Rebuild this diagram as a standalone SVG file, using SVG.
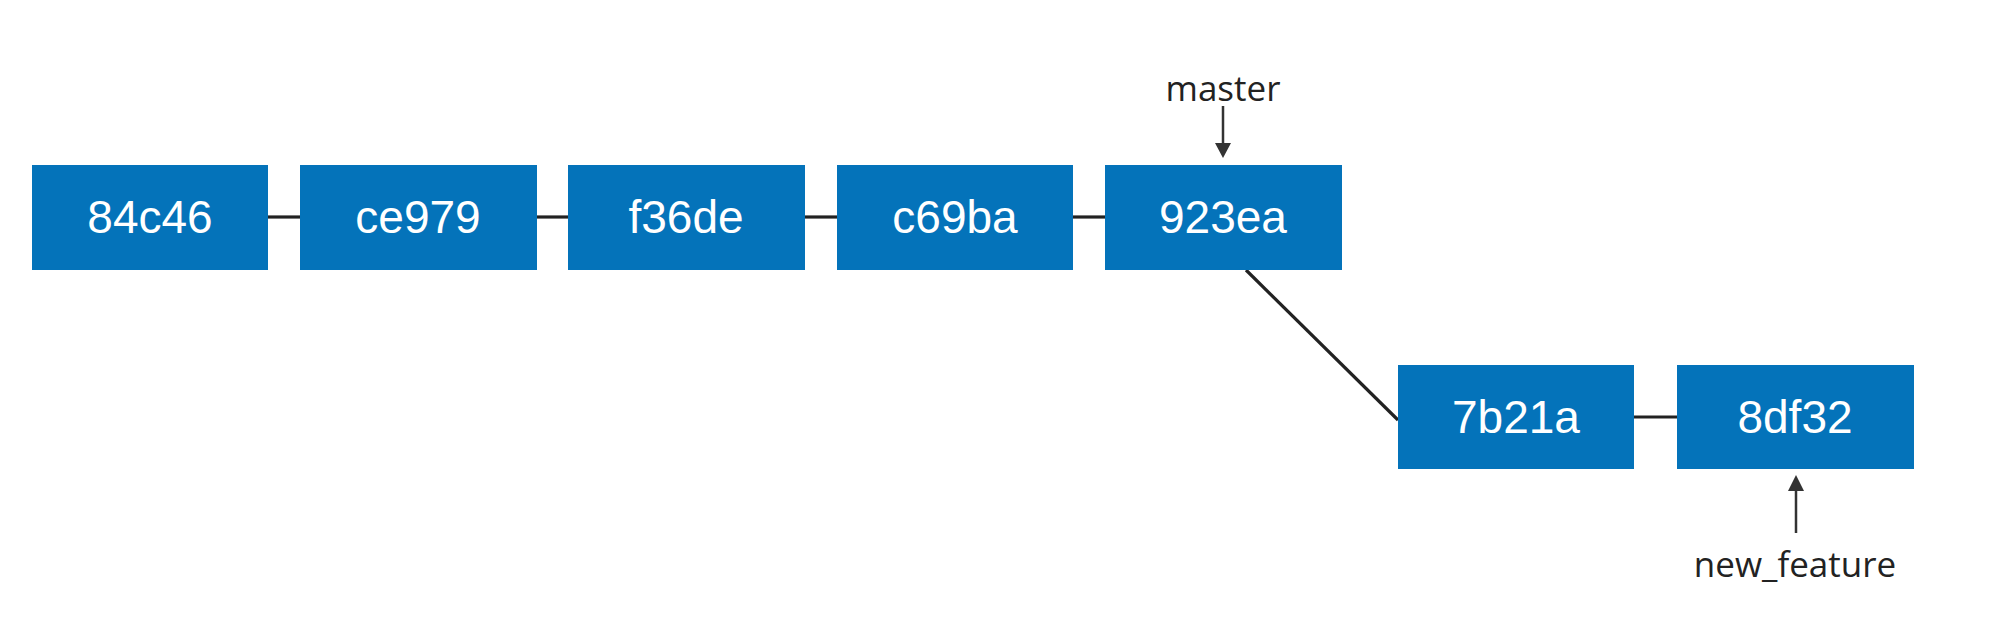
<svg xmlns="http://www.w3.org/2000/svg" width="1994" height="632" viewBox="0 0 1994 632">
<defs>
<style>
.box{fill:#0473BA}
.lbl{font-family:"Liberation Sans",Arial,sans-serif;font-size:46px;fill:#fff;text-anchor:middle}
.ref{font-family:"Open Sans","Liberation Sans",sans-serif;font-size:35px;fill:#222;text-anchor:middle}
.edge{stroke:#222;stroke-width:3.2;fill:none}
.ptr{stroke:#333;stroke-width:2.5;fill:none}
</style>
</defs>
<rect width="1994" height="632" fill="#fff"/>
<g id="connectors">
<line class="edge" x1="268" y1="217" x2="300" y2="217"/>
<line class="edge" x1="537" y1="217" x2="568" y2="217"/>
<line class="edge" x1="805" y1="217" x2="837" y2="217"/>
<line class="edge" x1="1073" y1="217" x2="1105" y2="217"/>
<line class="edge" x1="1246" y1="270" x2="1398" y2="420"/>
<line class="edge" x1="1634" y1="417" x2="1677" y2="417"/>
<path d="M1223,106 L1223,144" class="ptr"/>
<path d="M1215,143 L1231,143 L1223,158 Z" fill="#333"/>
<path d="M1796,533 L1796,490" class="ptr"/>
<path d="M1788,491 L1804,491 L1796,475 Z" fill="#333"/>
</g>
<g id="n84c46"><rect class="box" x="32" y="165" width="236" height="105"/><text class="lbl" x="150" y="233">84c46</text></g>
<g id="nce979"><rect class="box" x="300" y="165" width="237" height="105"/><text class="lbl" x="418" y="233">ce979</text></g>
<g id="nf36de"><rect class="box" x="568" y="165" width="237" height="105"/><text class="lbl" x="686" y="233">f36de</text></g>
<g id="nc69ba"><rect class="box" x="837" y="165" width="236" height="105"/><text class="lbl" x="955" y="233">c69ba</text></g>
<g id="n923ea"><rect class="box" x="1105" y="165" width="237" height="105"/><text class="lbl" x="1223" y="233">923ea</text></g>
<g id="n7b21a"><rect class="box" x="1398" y="365" width="236" height="104"/><text class="lbl" x="1516" y="433">7b21a</text></g>
<g id="n8df32"><rect class="box" x="1677" y="365" width="237" height="104"/><text class="lbl" x="1795" y="433">8df32</text></g>
<g id="master"><text class="ref" x="1223" y="101">master</text></g>
<g id="new_feature"><text class="ref" x="1795" y="577">new_feature</text></g>
</svg>
